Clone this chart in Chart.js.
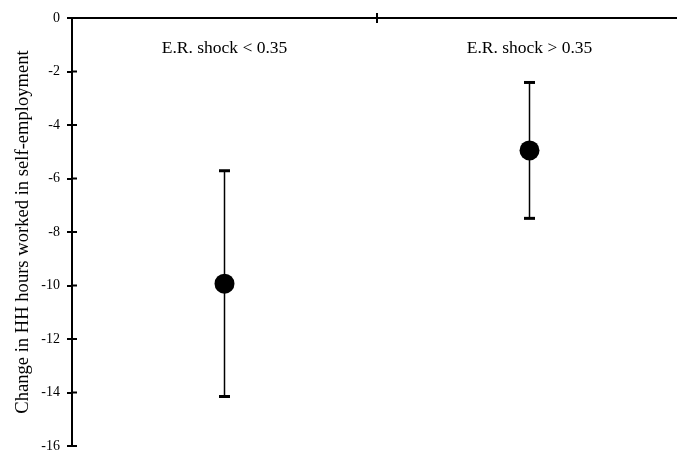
<!DOCTYPE html>
<html lang="en">
<head>
    <meta charset="UTF-8">
    <title>Self-employment hours</title>
    <script src="https://cdn.jsdelivr.net/npm/chart.js"></script>
    <style>
        body { margin: 0; overflow: hidden; background: #fff; }
    </style>
</head>
<body>
    <canvas id="grafico" width="682" height="452"></canvas>

<script>
    // dados
    const categorias = ['E.R. shock < 0.35', 'E.R. shock > 0.35'];
    const medias = [-9.93, -4.95];
    const limiteInferior = [-14.15, -7.49];
    const limiteSuperior = [-5.71, -2.41];
    const eixoY = { min: -16, max: 0, passo: 2 };
    const tituloY = 'Change in HH hours worked in self-employment';

    const fonte = 'Liberation Serif, Times New Roman, serif';

    // posicao de cada categoria no eixo x (centro de cada metade)
    const posicoes = categorias.map((c, i) => i + 0.5);

    const datasets = [{
        type: 'scatter',
        data: posicoes.map((x, i) => ({ x: x, y: medias[i] })),
        backgroundColor: '#000',
        borderWidth: 0,
        pointRadius: 10,
        pointHoverRadius: 10
    }];

    // barras de erro: uma linha por categoria, com tracinhos nas pontas
    posicoes.forEach((x, i) => {
        datasets.push({
            type: 'line',
            data: [{ x: x, y: limiteInferior[i] }, { x: x, y: limiteSuperior[i] }],
            borderColor: '#000',
            borderWidth: 1.5,
            pointStyle: 'line',
            pointRadius: 5.5,
            pointBorderWidth: 3,
            pointBorderColor: '#000',
            fill: false
        });
    });

    // tracinhos do lado de dentro dos eixos
    const ticksCruzados = {
        id: 'ticksCruzados',
        afterDraw(chart) {
            const ctx = chart.ctx;
            const area = chart.chartArea;
            ctx.save();
            ctx.strokeStyle = '#000';
            ctx.lineWidth = 2;
            chart.scales.y.ticks.forEach(t => {
                const py = chart.scales.y.getPixelForValue(t.value);
                ctx.beginPath();
                ctx.moveTo(area.left, py);
                ctx.lineTo(area.left + 5, py);
                ctx.stroke();
            });
            chart.scales.x.ticks.forEach(t => {
                const px = chart.scales.x.getPixelForValue(t.value);
                ctx.beginPath();
                ctx.moveTo(px, area.top);
                ctx.lineTo(px, area.top + 5);
                ctx.stroke();
            });
            ctx.restore();
        }
    };

    // nomes das categorias dentro da area do grafico
    const nomesCategorias = {
        id: 'nomesCategorias',
        afterDatasetsDraw(chart) {
            const ctx = chart.ctx;
            ctx.save();
            ctx.font = '17.5px ' + fonte;
            ctx.fillStyle = '#000';
            ctx.textAlign = 'center';
            ctx.textBaseline = 'middle';
            categorias.forEach((c, i) => {
                ctx.fillText(c, chart.scales.x.getPixelForValue(posicoes[i]), chart.chartArea.top + 30);
            });
            ctx.restore();
        }
    };

    const ctx = document.getElementById('grafico');

    let grafico = new Chart(ctx, {
        data: { datasets: datasets },
        options: {
            responsive: false,
            animation: false,
            layout: { autoPadding: false, padding: { top: 13, bottom: 6, left: 0, right: 0 } },
            plugins: {
                legend: { display: false },
                tooltip: { enabled: false }
            },
            scales: {
                x: {
                    type: 'linear',
                    position: 'top',
                    min: 0,
                    max: categorias.length,
                    afterBuildTicks: s => { s.ticks = [{ value: 1 }]; },
                    afterFit: s => { s.paddingLeft = 0; s.paddingRight = 0; },
                    ticks: { display: false },
                    grid: { drawOnChartArea: false, tickLength: 5, color: '#000', lineWidth: 2 },
                    border: { color: '#000', width: 2 }
                },
                y: {
                    min: eixoY.min,
                    max: eixoY.max,
                    afterFit: s => { s.width = 72; s.paddingBottom = 0; s.paddingTop = 0; },
                    ticks: {
                        stepSize: eixoY.passo,
                        color: '#000',
                        padding: 7,
                        font: { family: fonte, size: 14 }
                    },
                    grid: { drawOnChartArea: false, tickLength: 5, color: '#000', lineWidth: 2 },
                    border: { color: '#000', width: 2 },
                    title: {
                        display: true,
                        text: tituloY,
                        color: '#000',
                        padding: { top: 12, bottom: 0 },
                        font: { family: fonte, size: 18.6 }
                    }
                }
            }
        },
        plugins: [ticksCruzados, nomesCategorias]
    });
</script>
</body>
</html>
